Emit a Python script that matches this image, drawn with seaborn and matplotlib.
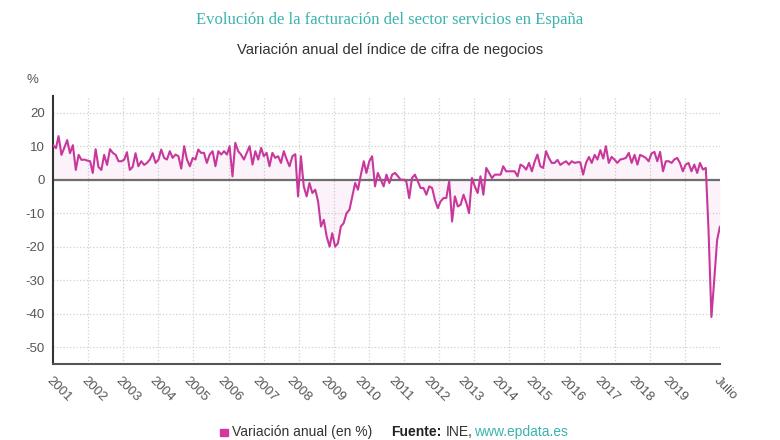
import numpy as np
import pandas as pd
import matplotlib
matplotlib.use('Agg')
import matplotlib.pyplot as plt
import matplotlib.dates as mdates
import seaborn as sns

# monthly annual variation (%) of services turnover index, Jan 2001 - Jul 2020
y2001 = [10.3, 9.4, 13, 7.4, 9.5, 11.8, 7.9, 10.3, 2.9, 7.4, 5.9, 6]
y2002 = [5.7, 5.5, 2, 9.1, 3.8, 2.9, 7.4, 4.4, 9.1, 8, 7.4, 5.5]
y2003 = [5.5, 6, 8.2, 2.9, 3.8, 7.9, 4, 5.5, 4.4, 5, 6, 7.9]
y2004 = [5, 6, 9, 6.5, 6, 8.5, 6.5, 7.5, 7, 3.3, 10, 6]
y2005 = [4, 6.5, 6, 9, 8, 8, 5, 7.5, 8.5, 4, 8.5, 7.5]
y2006 = [8.5, 7.5, 10, 1, 11, 8.5, 7.5, 6, 8, 10, 4.5, 8.5]
y2007 = [6, 9.5, 7, 8, 4, 8, 6.5, 7, 5, 8.5, 6, 4]
y2008 = [7, 7.6, -5, 7, -2, -5, -1, -4, -3, -6.5, -14, -12]
y2009 = [-17, -20, -16, -20, -19, -14, -13, -10, -9, -5, -1, -3]
y2010 = [1.5, 5.5, 2, 5.5, 7, -2, 2, 0, -2, 1.5, -1, 1.5]
y2011 = [2, 1, 0, 0, -0.5, -5.5, 0.5, 1.5, -0.5, -2.5, -2.5, -4.5]
y2012 = [-2, -2.5, -6, -8.5, -6.5, -5.5, -5.5, -0.5, -12.5, -5, -8, -7.5]
y2013 = [-4.5, -7, -10, 0.5, -2, -4, 1, -4.5, 3.5, 2, 0.5, 1.5]
y2014 = [1.5, 1.5, 4, 2.5, 2.5, 2.5, 2.5, 1, 4.5, 4, 3, 5]
y2015 = [2.5, 5.5, 7.5, 4, 3.5, 8.5, 6.5, 5, 5, 5.9, 4.4, 5]
y2016 = [5.5, 4.5, 5.5, 5, 5.2, 5.2, 1.5, 5, 6.8, 5, 7.4, 6]
y2017 = [8.8, 6.3, 10, 5, 6.8, 6, 5, 6, 6.2, 6.5, 8, 5]
y2018 = [7.4, 4.5, 7.4, 7, 6.5, 5.5, 7.8, 8.3, 5.5, 8.3, 2.5, 5.5]
y2019 = [5.5, 5, 6, 6.5, 5, 2.5, 4.5, 5, 2.5, 4.5, 2, 5]
y2020 = [3, 3.5, -15, -41, -30, -18, -14]

values = (y2001 + y2002 + y2003 + y2004 + y2005 + y2006 + y2007 + y2008 + y2009
          + y2010 + y2011 + y2012 + y2013 + y2014 + y2015 + y2016 + y2017
          + y2018 + y2019 + y2020)
dates = pd.date_range('2001-01-01', periods=len(values), freq='MS')
df = pd.DataFrame({'fecha': dates, 'variacion': values})

year_labels = [str(y) for y in range(2001, 2020)]
last_label = 'Julio'
y_ticks = [20, 10, 0, -10, -20, -30, -40, -50]

line_color = '#c8389c'
teal = '#3bb3ae'

sns.set_style('white')
plt.rcParams['font.family'] = ['Liberation Sans', 'DejaVu Sans']

fig = plt.figure(figsize=(7.8, 4.4), dpi=100)
ax = fig.add_axes([0.068, 0.173, 0.855, 0.609])

x0 = mdates.date2num(dates[0])
x1 = mdates.date2num(dates[-1])

# grid like the original: vertical lines evenly spaced, not on the year ticks
ax.set_xticks(np.linspace(x0, x1, 20), minor=True)
ax.grid(True, which='minor', axis='x', color='#d0d0d0', linestyle=':', linewidth=0.9)
ax.set_yticks(y_ticks)
ax.grid(True, which='major', axis='y', color='#d0d0d0', linestyle=':', linewidth=0.9)
ax.tick_params(axis='x', which='minor', length=0)

ax.fill_between(df['fecha'], df['variacion'], 0, color=line_color, alpha=0.06, lw=0)
ax.axhline(0, color='#6e6e6e', lw=1.6, zorder=2)
sns.lineplot(data=df, x='fecha', y='variacion', color=line_color, lw=1.5, ax=ax, zorder=3)

ax.set_xlim(x0, x1)
ax.set_ylim(-55, 25)

tick_dates = [pd.Timestamp(f'{y}-01-01') for y in year_labels] + [dates[-1]]
ax.set_xticks(mdates.date2num(tick_dates))
ax.set_xticklabels(year_labels + [last_label], rotation=-45, ha='left', va='top',
                   rotation_mode='anchor', fontsize=9.5, color='#555555')
ax.set_yticklabels([str(v) for v in y_ticks], fontsize=9.5, color='#555555')
ax.tick_params(axis='x', which='major', direction='out', length=4, width=1,
               color='#555555', pad=4)
ax.tick_params(axis='y', which='major', direction='out', length=3, width=1,
               color='#333333', pad=3)
ax.set_xlabel('')
ax.set_ylabel('')

for side in ['top', 'right']:
    ax.spines[side].set_visible(False)
ax.spines['left'].set_color('#333333')
ax.spines['left'].set_linewidth(1.5)
ax.spines['bottom'].set_color('#555555')
ax.spines['bottom'].set_linewidth(1.5)

fig.text(0.5, 0.955, 'Evolución de la facturación del sector servicios en España',
         ha='center', va='center', fontsize=12, color=teal,
         family=['Liberation Serif', 'DejaVu Serif'])
fig.text(0.5, 0.887, 'Variación anual del índice de cifra de negocios',
         ha='center', va='center', fontsize=10.6, color='#333333')
fig.text(0.042, 0.818, '%', ha='center', va='center', fontsize=9.5, color='#555555')

# legend / source line at the bottom
fig.patches.append(plt.Rectangle((0.282, 0.008), 0.010, 0.018, transform=fig.transFigure,
                                 color='#d4359f', figure=fig))
fig.text(0.297, 0.018, 'Variación anual (en %)', ha='left', va='center',
         fontsize=10, color='#333333')
fig.text(0.502, 0.018, 'Fuente:', ha='left', va='center', fontsize=10,
         color='#222222', weight='bold')
fig.text(0.572, 0.018, 'INE,', ha='left', va='center', fontsize=10, color='#333333')
fig.text(0.608, 0.018, 'www.epdata.es', ha='left', va='center', fontsize=10, color=teal)

fig.savefig('out.png', dpi=100)
